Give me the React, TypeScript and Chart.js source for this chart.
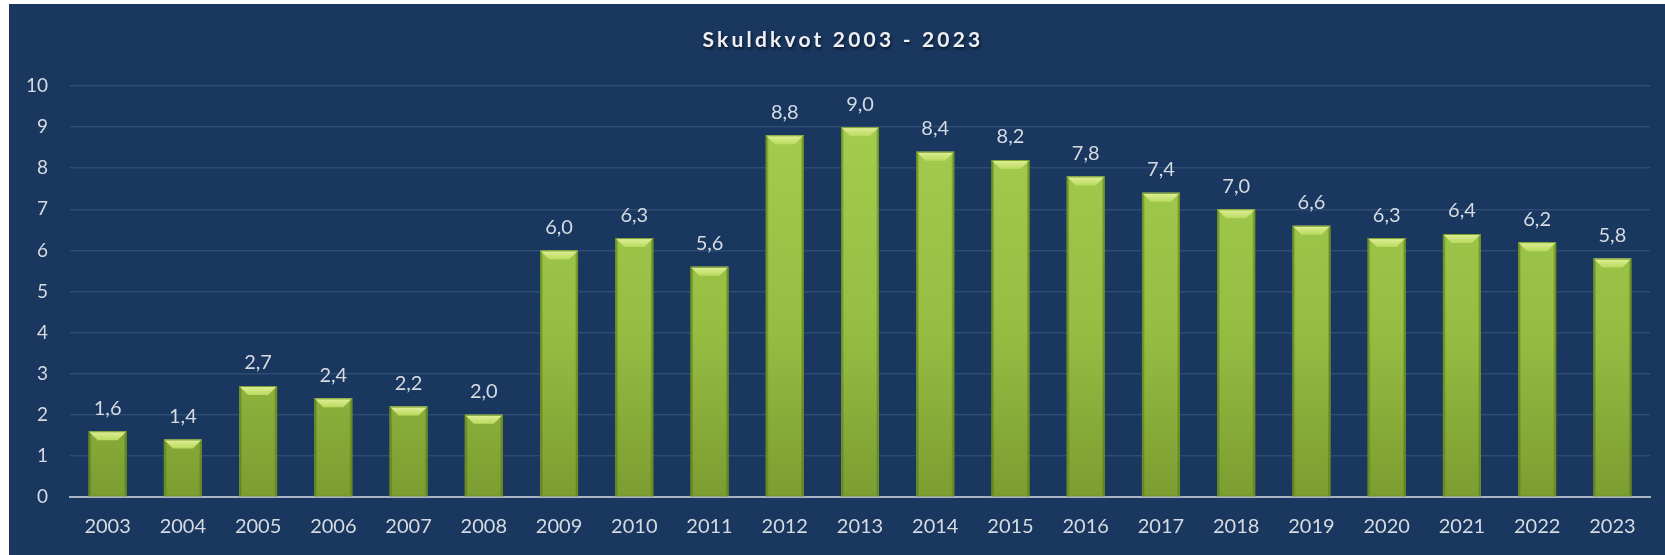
import React, { useEffect, useRef } from "react";
import { Chart, registerables } from "chart.js";

Chart.register(...registerables);

const years = ["2003","2004","2005","2006","2007","2008","2009","2010","2011","2012","2013","2014","2015","2016","2017","2018","2019","2020","2021","2022","2023"];
const skuldkvot = [1.6, 1.4, 2.7, 2.4, 2.2, 2.0, 6.0, 6.3, 5.6, 8.8, 9.0, 8.4, 8.2, 7.8, 7.4, 7.0, 6.6, 6.3, 6.4, 6.2, 5.8];
const titleText = "Skuldkvot 2003 - 2023";
const yMin = 0;
const yMax = 10;

const FONT = "Lato, 'Open Sans', sans-serif";
const NAVY = "#19375f";
const LABEL = "#d6dbe2";

const fmt = (v: number) => v.toFixed(1).replace(".", ",");

const bevelPlugin = {
  id: "bevel",
  afterDatasetsDraw(chart: any) {
    const ctx = chart.ctx;
    const meta = chart.getDatasetMeta(0);
    meta.data.forEach((bar: any, i: number) => {
      const { x, y, base, width } = bar.getProps(["x", "y", "base", "width"], true);
      const l = x - width / 2;
      const r = x + width / 2;
      const d = 9;
      ctx.save();
      // side edges (dark)
      const sg = ctx.createLinearGradient(l, 0, r, 0);
      sg.addColorStop(0, "rgba(60,85,15,0.7)");
      sg.addColorStop(0.08, "rgba(60,85,15,0)");
      sg.addColorStop(0.92, "rgba(60,85,15,0)");
      sg.addColorStop(1, "rgba(60,85,15,0.7)");
      ctx.fillStyle = sg;
      ctx.fillRect(l, y, width, base - y);
      // top bevel
      const g = ctx.createLinearGradient(0, y, 0, y + d);
      g.addColorStop(0, "#e2f09a");
      g.addColorStop(1, "#b8da5e");
      ctx.fillStyle = g;
      ctx.beginPath();
      ctx.moveTo(l, y);
      ctx.lineTo(r, y);
      ctx.lineTo(r - d, y + d);
      ctx.lineTo(l + d, y + d);
      ctx.closePath();
      ctx.fill();
      // outline
      ctx.strokeStyle = "rgba(110,150,35,0.9)";
      ctx.lineWidth = 1;
      ctx.strokeRect(l + 0.5, y + 0.5, width - 1, base - y - 1);
      // value label
      ctx.fillStyle = LABEL;
      ctx.font = `20px ${FONT}`;
      ctx.textAlign = "center";
      ctx.textBaseline = "middle";
      ctx.fillText(fmt(skuldkvot[i]), x, y - 23);
      ctx.restore();
    });
  },
};

const titlePlugin = {
  id: "customTitle",
  afterDraw(chart: any) {
    const ctx = chart.ctx;
    ctx.save();
    ctx.font = `bold 21px ${FONT}`;
    (ctx as any).letterSpacing = "3.2px";
    ctx.textAlign = "center";
    ctx.textBaseline = "middle";
    ctx.shadowColor = "rgba(0,0,0,0.6)";
    ctx.shadowOffsetX = 1;
    ctx.shadowOffsetY = 2;
    ctx.shadowBlur = 3;
    ctx.fillStyle = "#eef0f3";
    ctx.fillText(titleText, chart.width / 2 + 6, 36);
    ctx.restore();
  },
};

export default function App() {
  const ref = useRef<HTMLCanvasElement | null>(null);
  useEffect(() => {
    if (!ref.current) return;
    const chart = new Chart(ref.current, {
      type: "bar",
      data: {
        labels: years,
        datasets: [
          {
            data: skuldkvot,
            backgroundColor: (c: any) => {
              const area = c.chart.chartArea;
              if (!area) return "#95bd42";
              const g = c.chart.ctx.createLinearGradient(0, area.top, 0, area.bottom);
              g.addColorStop(0, "#a6cf50");
              g.addColorStop(0.6, "#95bd42");
              g.addColorStop(1, "#7c9d31");
              return g;
            },
            borderWidth: 0,
            barPercentage: 0.505,
            categoryPercentage: 1,
          },
        ],
      },
      options: {
        animation: false,
        responsive: false,
        maintainAspectRatio: false,
        layout: { padding: { top: 82, right: 15, left: 0, bottom: 0 } },
        plugins: {
          legend: { display: false },
          title: { display: false },
          tooltip: { enabled: false },
        },
        scales: {
          x: {
            grid: { display: false, drawTicks: false },
            border: { display: true, color: "#a9b4c2", width: 2 },
            ticks: { color: LABEL, font: { family: FONT, size: 20 }, padding: 18, maxRotation: 0 },
            afterFit: (s: any) => { s.height = 58; },
          },
          y: {
            min: yMin,
            max: yMax,
            ticks: { stepSize: 1, color: LABEL, font: { family: FONT, size: 19 }, padding: 22 },
            grid: { color: "#2f4c73", lineWidth: 1.5, drawTicks: false },
            border: { display: false },
            afterFit: (s: any) => { s.width = 61; },
          },
        },
      },
      plugins: [bevelPlugin, titlePlugin],
    });
    return () => chart.destroy();
  }, []);
  return (
    <div style={{ position: "absolute", left: 9, top: 4, width: 1656, height: 551, background: NAVY }}>
      <canvas ref={ref} width={1656} height={551} style={{ display: "block" }} />
    </div>
  );
}
